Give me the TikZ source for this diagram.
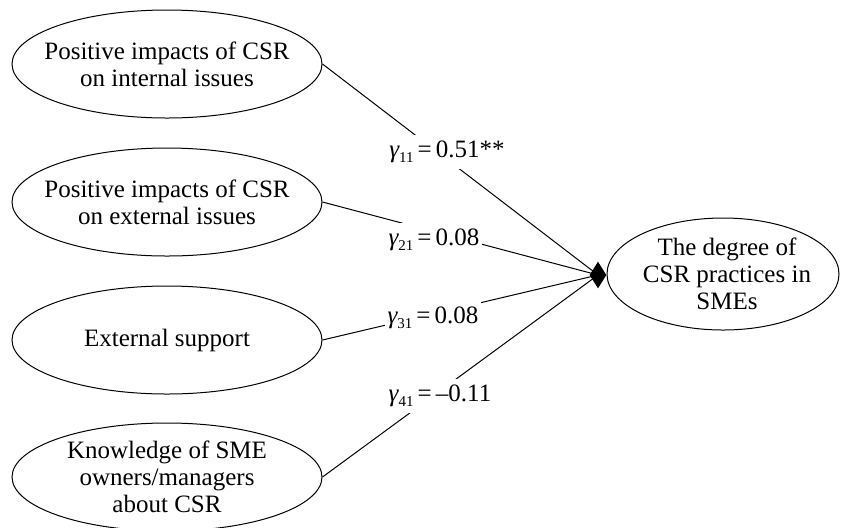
\documentclass[tikz,border=0pt]{standalone}
\usepackage{fontspec}
\setmainfont{Liberation Serif}
\usetikzlibrary{shapes.geometric}
\newcommand{\glab}[2]{\textit{γ}\kern-0.3pt\raisebox{-0.45ex}{\fontsize{7.5}{8}\selectfont #1}\,=\,#2}
\begin{document}
\begin{tikzpicture}[x=0.5pt,y=-0.5pt,
  txt/.style={align=center, inner sep=0pt, font=\fontsize{12.5}{13.5}\selectfont},
  src/.style={draw, ellipse, line width=0.5pt, minimum width=155pt, minimum height=54pt, inner sep=0pt, label={[txt]center:#1}},
  tgt/.style={draw, ellipse, line width=0.5pt, minimum width=116pt, minimum height=56pt, inner sep=0pt, label={[txt, xshift=2pt]center:#1}},
  lab/.style={fill=white, inner xsep=1.5pt, inner ysep=3pt, font=\fontsize{12.5}{14}\selectfont},
  link/.style={draw, line width=0.5pt},
  hubstyle/.style={diamond, fill=black, shape aspect=0.63, minimum width=8.5pt, minimum height=13.5pt, inner sep=0pt}]
\useasboundingbox (0,0) rectangle (841,527);
\node[src={Positive impacts of CSR\\on internal issues}] (e1) at (167,64) {};
\node[src={Positive impacts of CSR\\on external issues}] (e2) at (167,202) {};
\node[src={External support}] (e3) at (167,340) {};
\node[src={Knowledge of SME\\owners/managers\\about CSR}] (e4) at (167,477) {};
\node[tgt={The degree of\\CSR practices in\\SMEs}] (t) at (723,274) {};
\coordinate (hubpt) at (598,275);
\draw[link] (e1.east) -- (hubpt);
\draw[link] (e2.east) -- (hubpt);
\draw[link] (e3.east) -- (hubpt);
\draw[link] (e4.east) -- (hubpt);
\node[hubstyle] (hub) at (hubpt) {};
\node[lab] (l1) at (447,152) {\glab{11}{0.51**}};
\node[lab] (l2) at (434,240) {\glab{21}{0.08}};
\node[lab] (l3) at (433,318) {\glab{31}{0.08}};
\node[lab] (l4) at (440,396) {\glab{41}{–0.11}};
\end{tikzpicture}
\end{document}
